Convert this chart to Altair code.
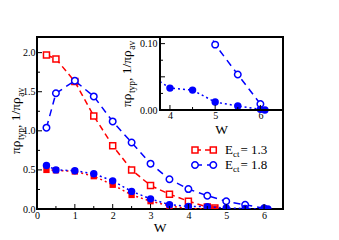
import altair as alt
import pandas as pd

# ---------------- data ----------------
W_red = [0.25, 0.5, 1.0, 1.5, 2.0, 2.5, 3.0, 3.5, 4.0, 4.5, 4.7]
red_open = [1.97, 1.92, 1.63, 1.19, 0.81, 0.50, 0.30, 0.19, 0.10, 0.025, 0.013]
red_filled = [0.50, 0.495, 0.48, 0.42, 0.31, 0.18, 0.10, 0.04, 0.005, 0.001, 0.0]

W_blue = [0.25, 0.5, 1.0, 1.5, 2.0, 2.5, 3.0, 3.5, 4.0, 4.5, 5.0, 5.5, 6.0]
blue_open = [1.04, 1.48, 1.64, 1.44, 1.12, 0.85, 0.58, 0.38, 0.255, 0.17, 0.0985, 0.0535, 0.009]
W_blue_f = [0.25, 0.5, 1.0, 1.5, 2.0, 2.5, 3.0, 3.5, 4.0, 4.5, 5.0, 5.5, 6.0, 6.1]
blue_filled = [0.556, 0.50, 0.49, 0.45, 0.36, 0.225, 0.13, 0.055, 0.033, 0.030, 0.012, 0.006, 0.001, 0.0]

main_x_ticks = [0, 1, 2, 3, 4, 5, 6]
main_x_minor = [0.5, 1.5, 2.5, 3.5, 4.5, 5.5]
main_y_ticks = [0.0, 0.5, 1.0, 1.5, 2.0]
main_y_minor = [0.25, 0.75, 1.25, 1.75]
inset_x_ticks = [4, 5, 6]
inset_x_minor = [4.5, 5.5]
inset_y_ticks = [0.0, 0.05, 0.10]
inset_y_minor = [0.025, 0.075]
legend_labels = ["= 1.3", "= 1.8"]

# ---------------- layout ----------------
FONT = "Liberation Serif"
RED = "#ff0000"
BLUE = "#0000ff"
PW, PH = 246, 172          # main plot area
OX, OY = 37, 37            # page position of plot origin
IX0, IY1 = 123, 73         # inset left / bottom in plot coords


def px(x):
    return x - OX


def py(y):
    return y - OY


xs_main = alt.Scale(domain=[0, 6.5], nice=False, zero=False)
ys_main = alt.Scale(domain=[0, 2.2], nice=False, zero=False)
xs_in = alt.Scale(domain=[3.78, 6.5], range=[IX0, PW], nice=False, zero=False)
ys_in = alt.Scale(domain=[0, 0.11], range=[IY1, 0], nice=False, zero=False)

ax_main_x = alt.Axis(values=main_x_ticks, format="d", title=None, labelPadding=1)
ax_main_y = alt.Axis(values=main_y_ticks, format=".1f", title=None, labelPadding=2)
ax_in_x = alt.Axis(orient="bottom", offset=-(PH - IY1), values=inset_x_ticks, format="d",
                   title=None, labelPadding=0)
ax_in_y = alt.Axis(orient="left", offset=-IX0, values=inset_y_ticks, format=".2f",
                   title=None, labelPadding=3)


def df(W, V):
    return pd.DataFrame({"W": W, "v": V})


def enc(chart, xs, ys, ax, ay):
    return chart.encode(
        x=alt.X("W:Q", scale=xs, axis=ax),
        y=alt.Y("v:Q", scale=ys, axis=ay),
    )


def series_layers(W, V, color, dash, kind, xs, ys, ax, ay, size):
    d = df(W, V)
    line = enc(alt.Chart(d).mark_line(color=color, strokeDash=dash, strokeWidth=1.5, clip=True),
               xs, ys, ax, ay)
    if kind == "open_sq":
        pt = alt.Chart(d).mark_point(shape="square", filled=True, fill="white", stroke=color,
                                     strokeWidth=1.5, size=size, opacity=1, clip=True)
    elif kind == "open_ci":
        pt = alt.Chart(d).mark_point(shape="circle", filled=True, fill="white", stroke=color,
                                     strokeWidth=1.5, size=size, opacity=1, clip=True)
    elif kind == "fill_sq":
        pt = alt.Chart(d).mark_point(shape="square", filled=True, color=color, size=size,
                                     opacity=1, clip=True)
    else:
        pt = alt.Chart(d).mark_point(shape="circle", filled=True, color=color, size=size,
                                     opacity=1, clip=True)
    return [line, enc(pt, xs, ys, ax, ay)]


def xticks(vals, xs, ax, ybase, length):
    return alt.Chart(pd.DataFrame({"t": vals})).mark_rule(color="black", strokeWidth=1).encode(
        x=alt.X("t:Q", scale=xs, axis=ax), y=alt.value(ybase), y2=alt.value(ybase - length))


def yticks(vals, ys, ay, xbase, length):
    return alt.Chart(pd.DataFrame({"t": vals})).mark_rule(color="black", strokeWidth=1).encode(
        y=alt.Y("t:Q", scale=ys, axis=ay), x=alt.value(xbase), x2=alt.value(xbase + length))


def txt(x, y, s, size, angle=0, align="left", baseline="alphabetic"):
    kw = dict(font=FONT, fontSize=size, color="black", align=align, baseline=baseline)
    if angle:
        kw["angle"] = angle
    return alt.Chart(pd.DataFrame({"s": [s]})).mark_text(**kw).encode(
        x=alt.value(x), y=alt.value(y), text="s:N")


# approximate glyph widths (em) for Times-like serif
WID = {"π": 0.53, "ρ": 0.5, "t": 0.278, "y": 0.5, "p": 0.5, ",": 0.25, " ": 0.25,
       "1": 0.5, "/": 0.278, "a": 0.444, "v": 0.5, "c": 0.444, "E": 0.611}


def width(s, size):
    return sum(WID.get(ch, 0.5) for ch in s) * size


def ytitle(bottom_y, base_x, sub_x, F, S):
    parts = [("πρ", F, base_x), ("typ", S, sub_x), (", 1/πρ", F, base_x), ("av", S, sub_x)]
    out = []
    y = bottom_y
    for s, size, x in parts:
        out.append(txt(px(x), py(y), s, size, angle=270))
        y -= width(s, size)
    return out


# ---------------- main layers ----------------
main_layers = []
main_layers += series_layers(W_red, red_open, RED, [6, 4], "open_sq", xs_main, ys_main,
                             ax_main_x, ax_main_y, 36)
main_layers += series_layers(W_red, red_filled, RED, [2, 3], "fill_sq", xs_main, ys_main,
                             ax_main_x, ax_main_y, 40)
main_layers += series_layers(W_blue, blue_open, BLUE, [7, 5], "open_ci", xs_main, ys_main,
                             ax_main_x, ax_main_y, 42)
main_layers += series_layers(W_blue_f, blue_filled, BLUE, [2, 3], "fill_ci", xs_main, ys_main,
                             ax_main_x, ax_main_y, 55)
main_layers += [
    xticks(main_x_ticks, xs_main, ax_main_x, PH, 5),
    xticks(main_x_minor, xs_main, ax_main_x, PH, 3),
    yticks(main_y_ticks, ys_main, ax_main_y, 0, 5),
    yticks(main_y_minor, ys_main, ax_main_y, 0, 3),
]

# titles
main_layers.append(txt(px(160), py(232), "W", 13.5, align="center"))
main_layers += ytitle(154, 20, 23.5, 13.5, 9.5)

# legend
for i, (lab, color, shape) in enumerate(zip(legend_labels, [RED, BLUE], ["square", "circle"])):
    yy = py(150 + 15 * i)
    dash = [6, 4] if i == 0 else [7, 5]
    main_layers.append(alt.Chart(pd.DataFrame({"a": [0]})).mark_rule(
        color=color, strokeWidth=1.5, strokeDash=dash).encode(
        x=alt.value(px(195)), x2=alt.value(px(213.3)), y=alt.value(yy)))
    for xx in [195, 213.3]:
        main_layers.append(alt.Chart(pd.DataFrame({"a": [0]})).mark_point(
            shape=shape, filled=True, fill="white", stroke=color, strokeWidth=1.5,
            size=36 if i == 0 else 42, opacity=1).encode(x=alt.value(px(xx)), y=alt.value(yy)))
    base = py(154 + 15 * i)
    main_layers.append(txt(px(225), base, "E", 13))
    main_layers.append(txt(px(225) + width("E", 13), base + 3, "ct", 9))
    main_layers.append(txt(px(225) + width("E", 13) + width("ct", 9) + 1, base, lab, 13))

main = alt.layer(*main_layers)

# ---------------- inset ----------------
inset_layers = [
    alt.Chart(pd.DataFrame({"a": [0]})).mark_rect(fill="white", stroke="black", strokeWidth=2)
    .encode(x=alt.value(IX0), x2=alt.value(PW), y=alt.value(0), y2=alt.value(IY1)),
]
inset_layers += series_layers(W_blue[9:], blue_open[9:], BLUE, [7, 5], "open_ci", xs_in, ys_in,
                              ax_in_x, ax_in_y, 42)
inset_layers += series_layers(W_blue_f[7:], blue_filled[7:], BLUE, [2, 3], "fill_ci", xs_in, ys_in,
                              ax_in_x, ax_in_y, 55)
# hide the part of the dotted line outside the inset frame
inset_layers.append(alt.Chart(pd.DataFrame({"a": [0]})).mark_rect(fill="white").encode(
    x=alt.value(95), x2=alt.value(IX0 - 1.1), y=alt.value(20), y2=alt.value(60)))
# redraw inset frame border on top
inset_layers.append(alt.Chart(pd.DataFrame({"a": [0]})).mark_rect(
    fill="transparent", stroke="black", strokeWidth=2)
    .encode(x=alt.value(IX0), x2=alt.value(PW), y=alt.value(0), y2=alt.value(IY1)))
inset_layers += [
    xticks(inset_x_ticks, xs_in, ax_in_x, IY1, 5),
    xticks(inset_x_minor, xs_in, ax_in_x, IY1, 3),
    yticks(inset_y_ticks, ys_in, ax_in_y, IX0, 5),
    yticks(inset_y_minor, ys_in, ax_in_y, IX0, 3),
]
inset_layers.append(txt(px(221.5), py(133.5), "W", 13.5, align="center"))
inset_layers += ytitle(107, 131, 135, 13.5, 9.5)

inset = alt.layer(*inset_layers)

chart = (
    alt.layer(main, inset)
    .resolve_scale(x="independent", y="independent")
    .properties(
        width=PW, height=PH,
        padding={"left": 29, "top": 29, "right": 40, "bottom": 31},
        autosize=alt.AutoSizeParams(type="none"),
    )
    .configure_view(stroke="black", strokeWidth=2)
    .configure_axis(
        labelFont=FONT, labelFontSize=10, labelColor="black", ticks=False, domain=False,
        grid=False, labelFlush=False, labelOverlap=False,
    )
)

chart.save("out.html", embed_options={"renderer": "svg", "actions": False})
